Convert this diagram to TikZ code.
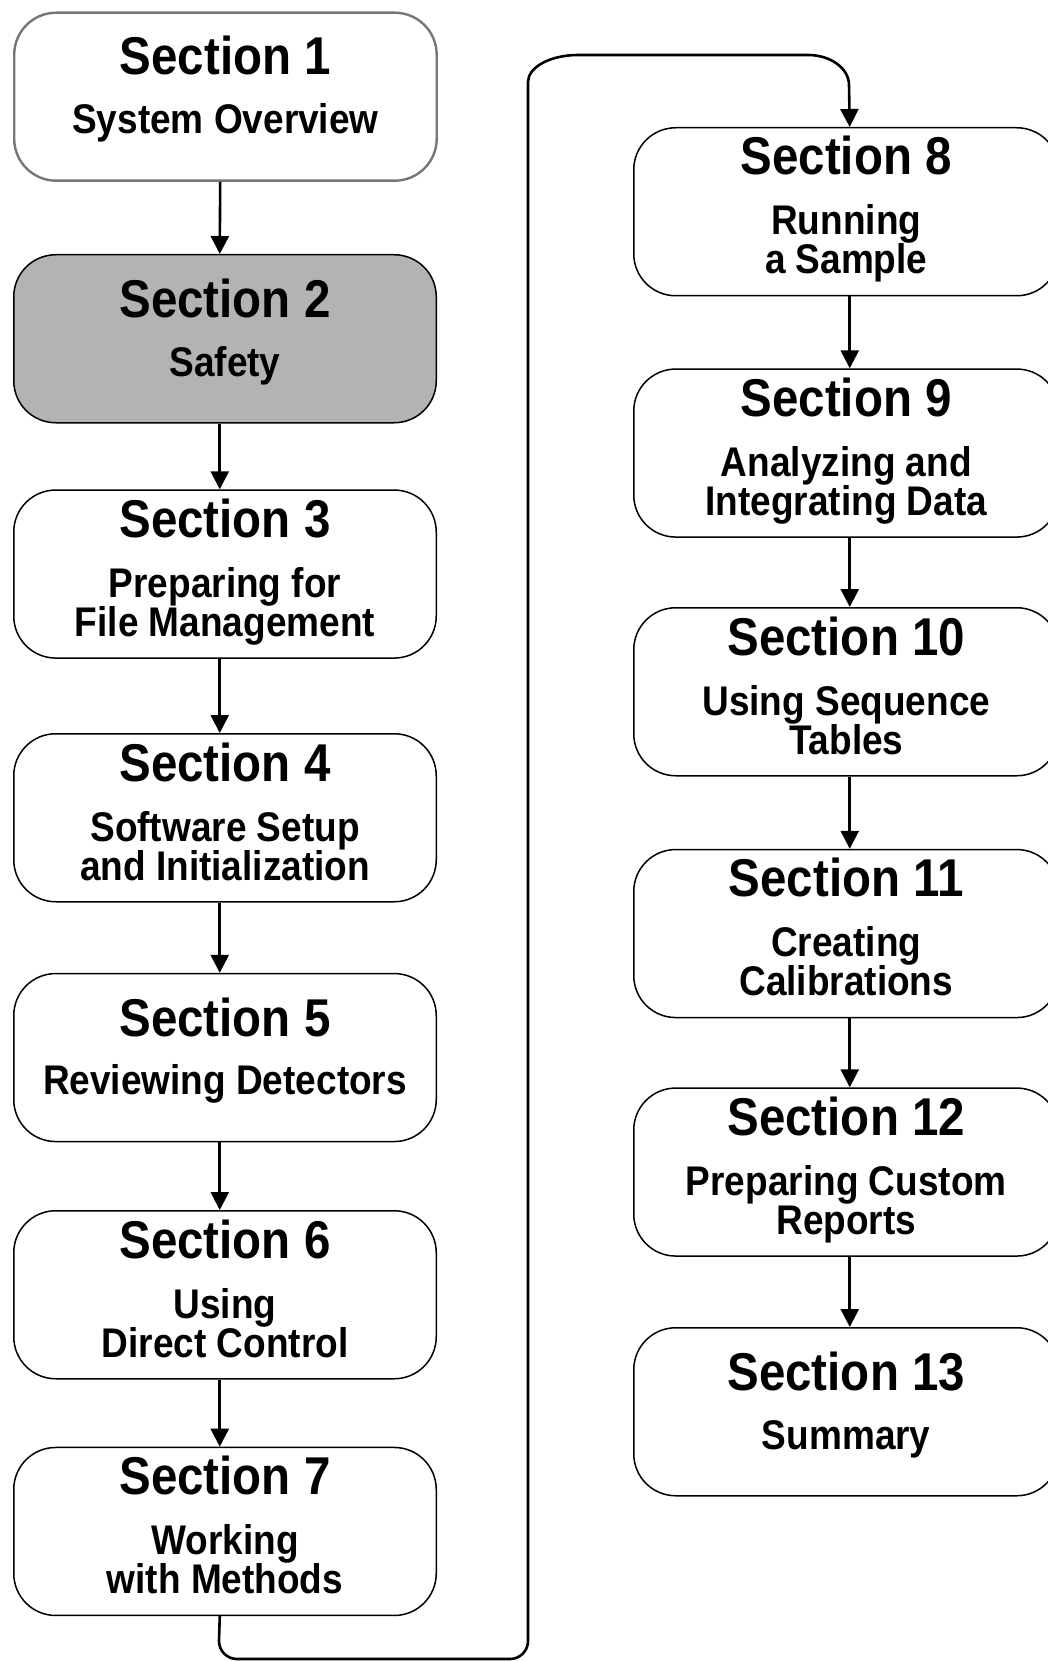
\documentclass[tikz,border=0pt]{standalone}
\usepackage{fontspec}
\setmainfont{Liberation Sans}
\usetikzlibrary{arrows.meta}

% text is set slightly tall, as in the printed chart
\newcommand\tall[1]{\scalebox{1}[1.12]{#1}}

% box with a heading and one line of text
\newcommand\boxone[6]{%
  \node[secbox,#4,anchor=north west] (#1) at (#2,-#3) {};
  \node[headtxt] (#1h) at ([yshift=-63.5pt]#1.north) {\tall{Section #5}};
  \node[subtxt] (#1a) at ([yshift=-122pt]#1.north) {\tall{#6}};
}
% box with a heading and two lines of text
\newcommand\boxtwo[7]{%
  \node[secbox,#4,anchor=north west] (#1) at (#2,-#3) {};
  \node[headtxt] (#1h) at ([yshift=-48pt]#1.north) {\tall{Section #5}};
  \node[subtxt] (#1a) at ([yshift=-108pt]#1.north) {\tall{#6}};
  \node[subtxt] (#1b) at ([yshift=-147pt]#1.north) {\tall{#7}};
}

\begin{document}
\begin{tikzpicture}[x=1pt,y=1pt,
  secbox/.style={draw=black, line width=1.5pt, rounded corners=42pt,
    minimum height=168pt, inner sep=0pt, fill=white},
  leftcol/.style={minimum width=422.5pt},
  rightcol/.style={minimum width=425pt},
  firstbox/.style={draw={rgb,255:red,118;green,118;blue,118}, line width=2.4pt},
  safetybox/.style={fill={rgb,255:red,179;green,179;blue,179}},
  headtxt/.style={anchor=base, inner sep=0pt,
    font=\fontsize{47.5}{50}\selectfont\bfseries},
  subtxt/.style={anchor=base, inner sep=0pt,
    font=\fontsize{37}{40}\selectfont\bfseries},
  arr/.style={line width=2.6pt, -{Triangle[width=18pt,length=18pt]}},
]
\useasboundingbox (0,0) rectangle (1048,-1661);
\clip (0,0) rectangle (1048,-1661);

% left column
\boxone{s1}{13}{11.5}{leftcol,firstbox}{1}{System Overview}
\boxone{s2}{13}{254}{leftcol,safetybox}{2}{Safety}
\boxtwo{s3}{13}{489.3}{leftcol}{3}{Preparing for}{File Management}
\boxtwo{s4}{13}{733}{leftcol}{4}{Software Setup}{and Initialization}
\boxone{s5}{13}{972.8}{leftcol}{5}{Reviewing Detectors}
\boxtwo{s6}{13}{1210}{leftcol}{6}{Using}{Direct Control}
\boxtwo{s7}{13}{1446.7}{leftcol}{7}{Working}{with Methods}

% right column
\boxtwo{s8}{633}{127}{rightcol}{8}{Running}{a Sample}
\boxtwo{s9}{633}{368.3}{rightcol}{9}{Analyzing and}{Integrating Data}
\boxtwo{s10}{633}{607}{rightcol}{10}{Using Sequence}{Tables}
\boxtwo{s11}{633}{848.8}{rightcol}{11}{Creating}{Calibrations}
\boxtwo{s12}{633}{1087.3}{rightcol}{12}{Preparing Custom}{Reports}
\boxone{s13}{633}{1327}{rightcol}{13}{Summary}

% arrows down the left column
\foreach \a/\b in {s1/s2,s2/s3,s3/s4,s4/s5,s5/s6,s6/s7}
  \draw[arr] ([xshift=-5.25pt]\a.south) -- ([xshift=-5.25pt]\b.north);

% arrows down the right column
\foreach \a/\b in {s8/s9,s9/s10,s10/s11,s11/s12,s12/s13}
  \draw[arr] ([xshift=3.5pt]\a.south) -- ([xshift=3.5pt]\b.north);

% return path from the foot of the left column to the top of the right one
\draw[arr] ([xshift=-5.25pt]s7.south) -- (219,-1641)
  arc[start angle=180, end angle=270, radius=18] -- (510,-1659)
  arc[start angle=270, end angle=360, radius=18] -- (528,-82)
  arc[start angle=180, end angle=90, x radius=50, y radius=27] -- (808,-55)
  arc[start angle=90, end angle=0, x radius=41, y radius=30]
  -- ([xshift=3.5pt]s8.north);
\end{tikzpicture}
\end{document}
